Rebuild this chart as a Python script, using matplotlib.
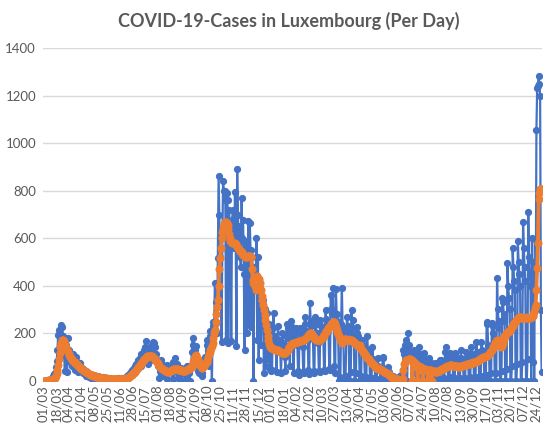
import matplotlib
matplotlib.use("Agg")
import matplotlib.pyplot as plt

# daily new cases (blue) and 7-day average (orange), one list per month
cases_2020_03 = [0, 0, 0, 0, 0, 1, 1, 2, 3, 0, 3, 5, 12, 19, 17, 26, 32, 59, 84, 130, 193, 213, 175, 200, 234, 228, 186, 172, 105, 40, 150]
avg_2020_03 = [0, 0, 0, 0, 0, 0, 0, 1, 1, 1, 1, 2, 3, 5, 7, 9, 12, 18, 30, 45, 65, 90, 115, 140, 160, 170, 172, 170, 165, 150, 140]
cases_2020_04 = [120, 35, 180, 100, 130, 80, 95, 60, 75, 110, 85, 45, 70, 100, 80, 55, 35, 60, 74, 50, 40, 55, 48, 30, 45, 38, 20, 42, 35, 25]
avg_2020_04 = [135, 128, 120, 113, 107, 100, 95, 90, 85, 82, 80, 78, 75, 72, 70, 66, 62, 59, 56, 53, 50, 48, 46, 44, 42, 40, 37, 35, 33, 31]
cases_2020_05 = [20, 15, 28, 10, 22, 18, 12, 25, 15, 8, 20, 14, 10, 18, 9, 12, 15, 7, 10, 14, 5, 8, 12, 6, 9, 11, 4, 7, 10, 5, 8]
avg_2020_05 = [29, 27, 25, 24, 23, 22, 21, 20, 19, 18, 17, 16, 15, 15, 14, 13, 12, 12, 11, 11, 10, 10, 9, 9, 9, 8, 8, 8, 8, 7, 7]
cases_2020_06 = [5, 3, 8, 2, 6, 4, 7, 3, 9, 5, 2, 6, 8, 4, 10, 3, 7, 12, 9, 15, 18, 10, 22, 25, 14, 30, 35, 45, 28, 40]
avg_2020_06 = [7, 6, 6, 5, 5, 5, 5, 5, 5, 5, 5, 5, 6, 6, 6, 6, 7, 7, 8, 9, 10, 12, 13, 15, 17, 19, 22, 25, 28, 31]
cases_2020_07 = [55, 48, 62, 70, 58, 80, 87, 75, 95, 60, 110, 90, 100, 128, 105, 140, 168, 95, 116, 70, 130, 120, 143, 88, 150, 164, 100, 160, 143, 90, 110]
avg_2020_07 = [34, 37, 41, 45, 49, 54, 59, 63, 67, 71, 75, 79, 84, 88, 91, 94, 97, 100, 102, 103, 104, 105, 105, 104, 103, 101, 99, 96, 92, 87, 83]
cases_2020_08 = [85, 60, 73, 11, 40, 55, 87, 70, 45, 20, 59, 50, 38, 65, 5, 45, 35, 60, 50, 42, 30, 80, 8, 55, 94, 45, 40, 70, 30, 10, 50]
avg_2020_08 = [78, 73, 68, 63, 59, 55, 52, 50, 47, 45, 43, 41, 40, 39, 38, 38, 38, 39, 40, 42, 44, 46, 47, 48, 48, 48, 48, 47, 47, 46, 45]
cases_2020_09 = [40, 55, 38, 0, 45, 30, 50, 35, 5, 40, 60, 45, 30, 0, 55, 60, 120, 179, 150, 95, 130, 145, 80, 60, 40, 30, 75, 59, 50, 20]
avg_2020_09 = [45, 44, 43, 42, 42, 42, 42, 42, 43, 44, 45, 47, 49, 51, 53, 56, 59, 66, 78, 92, 104, 108, 103, 95, 85, 78, 73, 65, 58, 55]
cases_2020_10 = [30, 87, 70, 60, 100, 90, 172, 150, 130, 60, 207, 190, 150, 0, 230, 249, 215, 412, 330, 242, 200, 517, 864, 700, 520, 600, 164, 560, 841, 799, 760]
avg_2020_10 = [54, 58, 62, 66, 70, 75, 80, 88, 98, 110, 122, 130, 136, 145, 160, 180, 200, 215, 245, 280, 310, 340, 400, 470, 515, 560, 600, 625, 645, 660, 668]
cases_2020_11 = [799, 170, 792, 760, 160, 720, 651, 600, 168, 650, 720, 680, 560, 793, 620, 145, 890, 700, 560, 650, 520, 480, 771, 600, 679, 450, 130, 590, 540, 200]
avg_2020_11 = [665, 668, 665, 655, 640, 620, 600, 590, 585, 582, 580, 580, 580, 578, 575, 570, 565, 560, 555, 552, 548, 545, 540, 535, 530, 526, 524, 522, 522, 523]
cases_2020_12 = [500, 672, 240, 666, 550, 228, 520, 450, 0, 480, 420, 430, 603, 172, 520, 87, 430, 390, 150, 330, 260, 341, 31, 300, 250, 60, 285, 200, 90, 240, 50]
avg_2020_12 = [524, 524, 524, 524, 522, 520, 470, 412, 425, 430, 400, 380, 420, 440, 410, 395, 430, 411, 380, 355, 341, 320, 298, 275, 256, 235, 214, 186, 170, 155, 143]
cases_2021_01 = [40, 150, 45, 220, 285, 160, 190, 140, 35, 160, 230, 170, 150, 120, 30, 130, 200, 160, 140, 100, 40, 190, 240, 180, 220, 150, 60, 230, 250, 200, 190]
avg_2021_01 = [140, 138, 136, 134, 133, 132, 131, 130, 129, 128, 127, 125, 123, 121, 119, 117, 116, 115, 115, 116, 118, 121, 125, 130, 135, 140, 145, 150, 153, 156, 158]
cases_2021_02 = [30, 180, 200, 221, 170, 150, 40, 25, 221, 200, 180, 160, 140, 35, 30, 270, 240, 210, 180, 170, 45, 28, 327, 250, 230, 200, 190, 40]
avg_2021_02 = [158, 159, 160, 161, 162, 163, 164, 165, 166, 167, 168, 169, 170, 171, 172, 174, 177, 181, 185, 189, 193, 196, 199, 200, 199, 196, 190, 183]
cases_2021_03 = [30, 270, 240, 200, 190, 160, 40, 35, 256, 230, 210, 200, 180, 45, 40, 298, 260, 240, 230, 210, 50, 45, 362, 300, 280, 390, 250, 60, 30, 385, 280]
avg_2021_03 = [178, 175, 173, 172, 171, 171, 172, 172, 173, 175, 178, 182, 186, 190, 200, 203, 207, 211, 216, 220, 225, 230, 234, 238, 242, 246, 249, 248, 240, 225, 214]
cases_2021_04 = [250, 200, 0, 0, 15, 240, 390, 220, 180, 0, 0, 20, 200, 270, 230, 210, 0, 0, 35, 298, 220, 256, 190, 0, 0, 30, 228, 200, 190, 160]
avg_2021_04 = [205, 196, 186, 180, 175, 165, 160, 165, 172, 176, 175, 174, 173, 172, 172, 172, 172, 172, 171, 170, 168, 166, 163, 160, 158, 155, 152, 150, 147, 145]
cases_2021_05 = [0, 0, 20, 172, 150, 140, 120, 0, 0, 15, 186, 130, 110, 100, 0, 0, 10, 143, 90, 80, 70, 0, 0, 8, 94, 60, 50, 45, 0, 0, 5]
avg_2021_05 = [150, 143, 135, 130, 125, 120, 115, 110, 105, 101, 97, 94, 90, 86, 83, 79, 75, 72, 69, 66, 62, 58, 55, 52, 51, 50, 50, 50, 48, 46, 44]
cases_2021_06 = [101, 94, 50, 45, 0, 0, 5, 59, 35, 30, 25, 0, 0, 3, 20, 15, 12, 10, 0, 0, 2, 12, 15, 18, 25, 0, 0, 10, 130, 110]
avg_2021_06 = [42, 40, 38, 36, 34, 32, 31, 29, 26, 23, 20, 17, 15, 12, 10, 9, 8, 7, 0, 6, 5, 0, 4, 3, 0, 2, 0, 5, 45, 70]
cases_2021_07 = [150, 170, 0, 0, 200, 150, 130, 120, 110, 0, 0, 30, 130, 120, 100, 90, 0, 0, 20, 143, 110, 95, 80, 0, 0, 15, 115, 90, 80, 70, 0]
avg_2021_07 = [80, 85, 87, 88, 88, 89, 90, 90, 88, 85, 0, 80, 77, 74, 71, 68, 66, 0, 63, 61, 59, 57, 55, 53, 0, 50, 48, 47, 46, 45, 45]
cases_2021_08 = [0, 10, 94, 80, 70, 60, 0, 0, 8, 73, 65, 60, 55, 0, 0, 10, 87, 80, 85, 70, 0, 0, 12, 122, 143, 100, 90, 0, 0, 15, 115]
avg_2021_08 = [0, 44, 44, 45, 44, 0, 42, 41, 40, 39, 38, 38, 38, 39, 40, 41, 43, 45, 47, 49, 50, 52, 54, 56, 58, 59, 61, 62, 63, 64, 64]
cases_2021_09 = [100, 90, 80, 0, 0, 10, 115, 100, 90, 85, 0, 0, 12, 130, 95, 85, 80, 0, 0, 10, 122, 100, 90, 80, 0, 0, 15, 143, 110, 95]
avg_2021_09 = [64, 64, 63, 63, 62, 62, 61, 61, 60, 60, 59, 59, 59, 60, 61, 62, 63, 64, 65, 66, 67, 68, 69, 70, 71, 72, 73, 74, 75, 76]
cases_2021_10 = [100, 0, 0, 15, 164, 120, 110, 100, 0, 0, 20, 164, 130, 120, 110, 0, 0, 25, 249, 240, 150, 140, 0, 0, 30, 242, 230, 200, 180, 0, 0]
avg_2021_10 = [77, 77, 78, 79, 80, 82, 84, 86, 88, 90, 92, 94, 96, 98, 99, 100, 101, 102, 103, 105, 108, 112, 116, 120, 125, 130, 136, 143, 150, 158, 165]
cases_2021_11 = [30, 432, 300, 250, 220, 0, 0, 40, 348, 330, 280, 250, 0, 0, 50, 496, 400, 350, 300, 0, 0, 60, 559, 480, 420, 380, 0, 0, 70, 587]
avg_2021_11 = [168, 172, 170, 165, 160, 150, 143, 145, 150, 160, 175, 186, 190, 195, 200, 203, 205, 207, 210, 214, 220, 226, 232, 238, 242, 246, 250, 255, 260, 265]
cases_2021_12 = [500, 450, 400, 0, 0, 80, 667, 560, 480, 420, 0, 0, 90, 711, 520, 450, 400, 0, 601, 80, 500, 0, 595, 300, 1055, 1232, 1240, 1285, 1250, 1200, 298]
avg_2021_12 = [268, 270, 268, 266, 264, 263, 263, 262, 263, 264, 265, 266, 265, 264, 263, 263, 264, 266, 268, 272, 277, 290, 305, 320, 382, 475, 580, 764, 790, 806, 808]
cases_2022_01 = [38]
avg_2022_01 = [806]

tick_labels = ["01/03", "18/03", "04/04", "21/04", "08/05", "25/05", "11/06", "28/06",
               "15/07", "01/08", "18/08", "04/09", "21/09", "08/10", "25/10", "11/11",
               "28/11", "15/12", "01/01", "18/01", "04/02", "21/02", "10/03", "27/03",
               "13/04", "30/04", "17/05", "03/06", "20/06", "07/07", "24/07", "10/08",
               "27/08", "13/09", "30/09", "17/10", "03/11", "20/11", "07/12", "24/12"]

cases = (cases_2020_03 + cases_2020_04 + cases_2020_05 + cases_2020_06 + cases_2020_07
         + cases_2020_08 + cases_2020_09 + cases_2020_10 + cases_2020_11 + cases_2020_12
         + cases_2021_01 + cases_2021_02 + cases_2021_03 + cases_2021_04 + cases_2021_05
         + cases_2021_06 + cases_2021_07 + cases_2021_08 + cases_2021_09 + cases_2021_10
         + cases_2021_11 + cases_2021_12 + cases_2022_01)
avg = (avg_2020_03 + avg_2020_04 + avg_2020_05 + avg_2020_06 + avg_2020_07
       + avg_2020_08 + avg_2020_09 + avg_2020_10 + avg_2020_11 + avg_2020_12
       + avg_2021_01 + avg_2021_02 + avg_2021_03 + avg_2021_04 + avg_2021_05
       + avg_2021_06 + avg_2021_07 + avg_2021_08 + avg_2021_09 + avg_2021_10
       + avg_2021_11 + avg_2021_12 + avg_2022_01)

n = len(cases)
days = list(range(n))

plt.rcParams['font.family'] = ['Lato', 'DejaVu Sans']
text_col = '#595959'

fig = plt.figure(figsize=(5.56, 4.26), dpi=100)
ax = fig.add_axes([0.0773, 0.1066, 0.8975, 0.7796])

ax.plot(days, cases, color='#4472C4', linewidth=1.6, marker='o', markersize=4.2, zorder=3)
ax.plot(days, avg, color='#ED7D31', linewidth=2.7, marker='o', markersize=4.8, zorder=4)

ax.set_xlim(-0.5, n - 0.5)
ax.set_ylim(0, 1400)
ax.set_yticks(range(0, 1401, 200))
ax.set_xticks(range(0, n, 17))
ax.set_xticklabels(tick_labels, rotation=90)
ax.tick_params(axis='both', length=0, labelsize=9.5, colors=text_col)
ax.tick_params(axis='y', pad=5)
ax.tick_params(axis='x', pad=3)

ax.grid(axis='y', color='#D9D9D9', linewidth=1)
ax.set_axisbelow(True)
for s in ax.spines.values():
    s.set_visible(False)

fig.text(0.52, 0.95, "COVID-19-Cases in Luxembourg (Per Day)", ha='center', va='center',
         fontsize=13, fontweight='bold', color=text_col)

fig.savefig("out.png", dpi=100)
